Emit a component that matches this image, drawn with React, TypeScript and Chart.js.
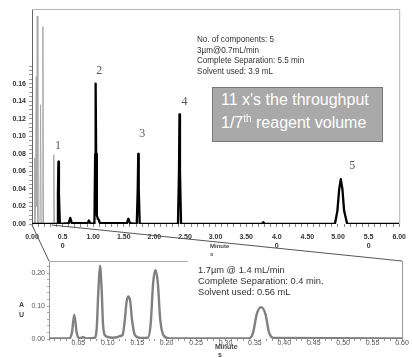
import React, { useEffect, useRef } from 'react';
import { Chart, registerables } from 'chart.js';

Chart.register(...registerables);

// ---------- Data ----------
// Upper chromatogram (HPLC, 3 µm) – retention time in minutes / absorbance AU
const topTimes = [0, 0.41, 0.424, 0.432, 0.44, 0.455, 0.60, 0.625, 0.65, 0.91, 0.93, 0.95, 1.02, 1.032, 1.04, 1.048, 1.06, 1.075, 1.09, 1.11, 1.55, 1.575, 1.60, 1.712, 1.728, 1.736, 1.744, 1.76, 2.385, 2.402, 2.41, 2.418, 2.435, 3.76, 3.78, 3.80, 4.95, 4.99, 5.02, 5.046, 5.072, 5.10, 5.15, 6.0];
const topAbs = [0, 0, 0.035, 0.071, 0.035, 0, 0.001, 0.007, 0.001, 0.001, 0.004, 0.001, 0, 0.08, 0.16, 0.08, 0.01, 0.006, 0.005, 0.001, 0.001, 0.006, 0.001, 0, 0.04, 0.08, 0.04, 0, 0, 0.06, 0.125, 0.06, 0, 0, 0.002, 0, 0, 0.015, 0.04, 0.051, 0.04, 0.015, 0, 0];

// Grey overlay trace near the solvent front
const solventTimes = [0, 0.036, 0.044, 0.052, 0.062, 0.07, 0.076, 0.086, 0.096, 0.13, 0.14, 0.15, 0.168, 0.178, 0.188, 0.345, 0.356, 0.367, 0.45];
const solventAbs = [0, 0, 0.075, 0, 0, 0.168, 0.02, 0.237, 0, 0, 0.136, 0, 0, 0.225, 0, 0, 0.079, 0, 0];

// Peak numbers of the upper chromatogram
const peakNames = ['1', '2', '3', '4', '5'];
const peakLabelTimes = [0.425, 1.10, 1.80, 2.49, 5.235];
const peakLabelAbs = [0.089, 0.175, 0.103, 0.139, 0.066];

// Lower chromatogram (UPLC, 1.7 µm)
const botTimes = [0, 0.034, 0.039, 0.043, 0.047, 0.051, 0.055, 0.058, 0.062, 0.077, 0.081, 0.084, 0.0867, 0.0895, 0.092, 0.097, 0.108, 0.117, 0.121, 0.125, 0.129, 0.132, 0.135, 0.138, 0.141, 0.146, 0.156, 0.168, 0.173, 0.177, 0.181, 0.185, 0.189, 0.195, 0.205, 0.340, 0.347, 0.353, 0.3605, 0.368, 0.374, 0.382, 0.60];
const botAbs = [0.002, 0.002, 0.02, 0.074, 0.02, 0.003, 0.003, 0.006, 0.002, 0.003, 0.03, 0.15, 0.223, 0.15, 0.04, 0.008, 0.004, 0.006, 0.009, 0.012, 0.06, 0.115, 0.129, 0.115, 0.06, 0.012, 0.003, 0.004, 0.05, 0.17, 0.21, 0.17, 0.06, 0.01, 0.002, 0.002, 0.02, 0.075, 0.097, 0.075, 0.02, 0.003, 0.002];

// Tick labels
const topXLabels = ['0.00', '0.5\n0', '1.00', '1.50', '2.00', '2.50', '3.00', '3.50', '4.0\n0', '4.50', '5.00', '5.5\n0', '6.00'];
const topYLabels = ['0.00', '0.02', '0.04', '0.06', '0.08', '0.10', '0.12', '0.14', '0.16'];
const botXLabels = ['', '0.05', '0.10', '0.15', '0.20', '0.25', '0.30', '0.35', '0.40', '0.45', '0.50', '0.55', '0.60'];
const botYLabels = ['0.00', '0.10', '0.20'];

// Zoom window of the upper trace that the lower panel expands
const zoomStartMin = 0;
const zoomEndMin = 0.32;
const botTopBorderEnd = 0.236;

const FONT = '"Liberation Sans", Arial, sans-serif';

function pts(xs: number[], ys: number[]) {
  return xs.map((x, i) => ({ x, y: ys[i] }));
}

export default function App() {
  const topRef = useRef<HTMLCanvasElement | null>(null);
  const botRef = useRef<HTMLCanvasElement | null>(null);

  useEffect(() => {
    if (!topRef.current || !botRef.current) return;

    const botDecor = {
      id: 'botDecor',
      afterDraw(chart: any) {
        const { ctx, chartArea: a, scales } = chart;
        ctx.save();
        ctx.lineWidth = 1.2;
        ctx.strokeStyle = '#a8a8a8';
        ctx.beginPath();
        ctx.moveTo(a.left, a.top + 0.5);
        ctx.lineTo(scales.x.getPixelForValue(botTopBorderEnd), a.top + 0.5);
        ctx.stroke();
        ctx.strokeStyle = '#999';
        ctx.lineWidth = 1;
        ctx.beginPath();
        ctx.moveTo(a.right + 0.5, a.top);
        ctx.lineTo(a.right + 0.5, a.bottom);
        ctx.stroke();
        ctx.restore();
      },
    };

    const bot = new Chart(botRef.current, {
      type: 'line',
      data: {
        datasets: [
          {
            data: pts(botTimes, botAbs),
            borderColor: '#808080',
            borderWidth: 2.4,
            pointRadius: 0,
            cubicInterpolationMode: 'monotone',
            borderJoinStyle: 'round',
          } as any,
        ],
      },
      options: {
        responsive: false,
        animation: false,
        events: [],
        layout: { padding: { left: 0, top: 261, right: 10, bottom: 0 } },
        plugins: { legend: { display: false }, tooltip: { enabled: false } },
        scales: {
          x: {
            type: 'linear',
            min: 0,
            max: 0.6,
            afterFit: (s: any) => { s.height = 19; },
            afterBuildTicks: (s: any) => {
              s.ticks = Array.from({ length: 61 }, (_, i) => ({ value: i / 100 }));
            },
            ticks: {
              autoSkip: false,
              maxRotation: 0,
              padding: -2,
              color: '#555',
              font: { family: FONT, size: 7 },
              callback: (_v: any, i: number) => (i % 5 === 0 ? botXLabels[i / 5] : ''),
            },
            grid: { display: true, drawOnChartArea: false, tickLength: 2, color: '#999' },
            border: { display: false },
          },
          y: {
            min: 0,
            max: 0.237,
            afterFit: (s: any) => { s.width = 49; },
            afterBuildTicks: (s: any) => {
              s.ticks = Array.from({ length: 12 }, (_, i) => ({ value: i * 0.02 }));
            },
            ticks: {
              autoSkip: false,
              padding: 2,
              color: '#555',
              font: { family: FONT, size: 7 },
              callback: (_v: any, i: number) => (i % 5 === 0 ? botYLabels[i / 5] : ''),
            },
            grid: { display: true, drawOnChartArea: false, tickLength: 2, color: '#aaa' },
            border: { display: true, color: '#999', width: 1 },
          },
        },
      },
      plugins: [botDecor],
    } as any);

    const topDecor = {
      id: 'topDecor',
      afterDraw(chart: any) {
        const { ctx, chartArea: a, scales } = chart;
        const { x, y } = scales;
        ctx.save();
        // frame top & right
        ctx.strokeStyle = '#b4b4b4';
        ctx.lineWidth = 1;
        ctx.beginPath();
        ctx.moveTo(a.left, a.top + 0.5);
        ctx.lineTo(a.right + 0.5, a.top + 0.5);
        ctx.lineTo(a.right + 0.5, a.bottom);
        ctx.stroke();
        // peak numbers
        ctx.font = '12px "Liberation Serif", "DejaVu Serif", serif';
        ctx.fillStyle = '#555';
        ctx.textAlign = 'center';
        ctx.textBaseline = 'middle';
        peakNames.forEach((n, i) => {
          ctx.fillText(n, x.getPixelForValue(peakLabelTimes[i]), y.getPixelForValue(peakLabelAbs[i]));
        });
        // zoom connectors to lower panel
        const b = bot.chartArea;
        ctx.strokeStyle = '#555';
        ctx.lineWidth = 1;
        ctx.beginPath();
        ctx.moveTo(x.getPixelForValue(zoomStartMin), a.bottom + 1);
        ctx.lineTo(b.left, b.top);
        ctx.moveTo(x.getPixelForValue(zoomEndMin), a.bottom + 1);
        ctx.lineTo(b.right, b.top);
        ctx.stroke();
        ctx.restore();
      },
    };

    const top = new Chart(topRef.current, {
      type: 'line',
      data: {
        datasets: [
          {
            data: pts(topTimes, topAbs),
            borderColor: '#000',
            borderWidth: 2.3,
            pointRadius: 0,
            borderJoinStyle: 'round',
          } as any,
          {
            data: pts(solventTimes, solventAbs),
            borderColor: '#a8a8a8',
            borderWidth: 1,
            pointRadius: 0,
          } as any,
        ],
      },
      options: {
        responsive: false,
        animation: false,
        events: [],
        layout: { padding: { left: 0, top: 9, right: 9, bottom: 104 } },
        plugins: { legend: { display: false }, tooltip: { enabled: false } },
        scales: {
          x: {
            type: 'linear',
            min: 0,
            max: 6,
            afterFit: (s: any) => { s.height = 30; },
            afterBuildTicks: (s: any) => {
              s.ticks = Array.from({ length: 61 }, (_, i) => ({ value: i / 10 }));
            },
            ticks: {
              autoSkip: false,
              maxRotation: 0,
              padding: 6,
              color: '#333',
              font: { family: FONT, size: 7, weight: 'bold', lineHeight: 1.25 },
              callback: (_v: any, i: number) => (i % 5 === 0 ? topXLabels[i / 5].split('\n') : ''),
            },
            grid: { display: true, drawOnChartArea: false, tickLength: 3, color: '#888' },
            border: { display: false },
          },
          y: {
            min: 0,
            max: 0.245,
            afterFit: (s: any) => { s.width = 32; },
            afterBuildTicks: (s: any) => {
              s.ticks = Array.from({ length: 37 }, (_, i) => ({ value: i * 0.005 }));
            },
            ticks: {
              autoSkip: false,
              padding: 3,
              color: '#333',
              font: { family: FONT, size: 7, weight: 'bold' },
              callback: (_v: any, i: number) => (i % 4 === 0 && i / 4 < topYLabels.length ? topYLabels[i / 4] : ''),
            },
            grid: { display: true, drawOnChartArea: false, tickLength: 3, color: '#999' },
            border: { display: true, color: '#666', width: 1 },
          },
        },
      },
      plugins: [topDecor],
    } as any);

    return () => {
      top.destroy();
      bot.destroy();
    };
  }, []);

  return (
    <div style={{ position: 'fixed', left: 0, top: 0, width: 412, height: 358, background: '#fff', overflow: 'hidden', fontFamily: FONT }}>
      <canvas ref={botRef} width={412} height={358} style={{ position: 'absolute', left: 0, top: 0 }} />
      <canvas ref={topRef} width={412} height={358} style={{ position: 'absolute', left: 0, top: 0 }} />

      <div style={{ position: 'absolute', left: 197, top: 34, fontSize: 9, lineHeight: '10.6px', color: '#333', whiteSpace: 'nowrap', transform: 'scaleX(0.9)', transformOrigin: 'left top' }}>
        <div>No. of components: 5</div>
        <div>3µm@0.7mL/min</div>
        <div>Complete Separation: 5.5 min</div>
        <div>Solvent used: 3.9 mL</div>
      </div>

      <div style={{ position: 'absolute', left: 212, top: 87, width: 171, height: 55, boxSizing: 'border-box', background: '#a9a9a9', border: '1px solid #777', color: '#fff', fontSize: 16, lineHeight: '23px', paddingLeft: 8, whiteSpace: 'nowrap' }}>
        <div>11 x's the throughput</div>
        <div>1/7<span style={{ fontSize: 10, position: 'relative', top: -6 }}>th</span> reagent volume</div>
      </div>

      <div style={{ position: 'absolute', left: 210, top: 242, fontSize: 6, fontWeight: 'bold', lineHeight: '8px', color: '#444', whiteSpace: 'nowrap' }}>
        <div>Minute</div>
        <div>s</div>
      </div>

      <div style={{ position: 'absolute', left: 198, top: 264.5, fontSize: 9.3, lineHeight: '11.3px', color: '#333', whiteSpace: 'nowrap' }}>
        <div>1.7µm @ 1.4 mL/min</div>
        <div>Complete Separation: 0.4 min.</div>
        <div>Solvent used: 0.56 mL</div>
      </div>

      <div style={{ position: 'absolute', left: 19, top: 299.5, fontSize: 7, fontWeight: 'bold', lineHeight: '10px', color: '#444' }}>
        <div>A</div>
        <div>U</div>
      </div>

      <div style={{ position: 'absolute', left: 215, top: 342.5, fontSize: 7, fontWeight: 'bold', lineHeight: '8px', color: '#444', whiteSpace: 'nowrap' }}>
        <div>Minute</div>
        <div style={{ paddingLeft: 3 }}>s</div>
      </div>
    </div>
  );
}
